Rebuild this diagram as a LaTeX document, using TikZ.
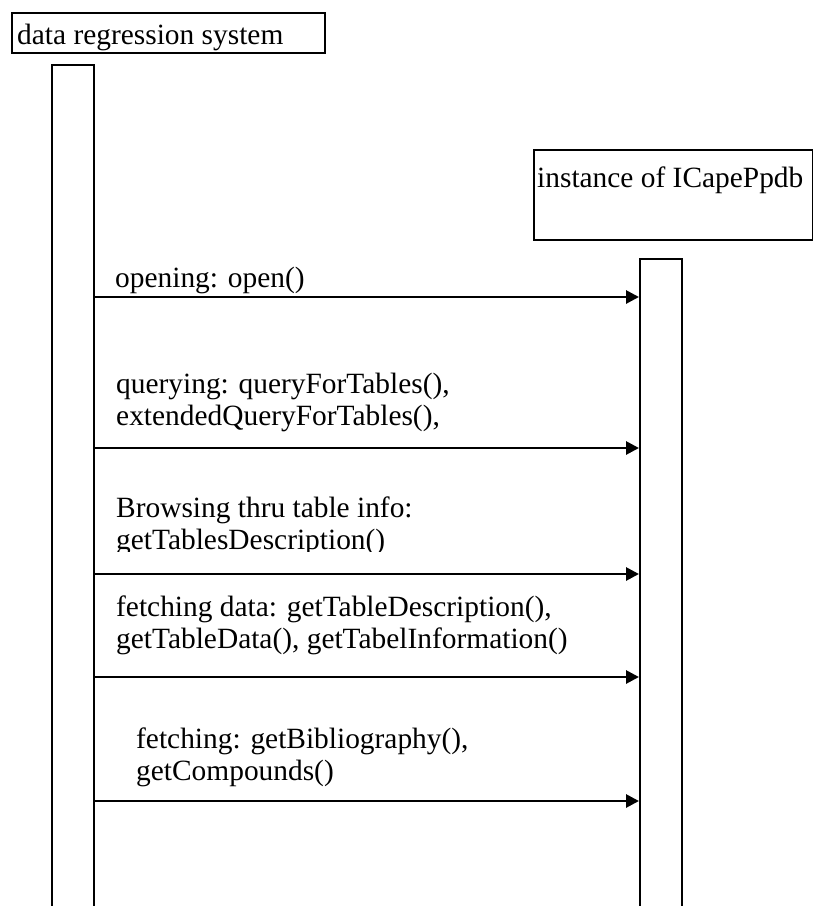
\documentclass[tikz,border=0pt]{standalone}
\usepackage{fontspec}
\setmainfont{Liberation Serif}
\usetikzlibrary{arrows.meta}

\begin{document}
\begin{tikzpicture}[x=1bp,y=-1bp,
  txt/.style={inner sep=0pt, font=\fontsize{29.4bp}{32bp}\selectfont, anchor=base west},
  objbox/.style={draw, line width=1.8bp, inner sep=0pt, anchor=north west},
  lifeline/.style={draw, line width=1.8bp, inner sep=0pt, anchor=north west, minimum width=42bp, minimum height=900bp},
  msg/.style={line width=2.8bp, -{Triangle[length=13bp, width=13bp]}}
]
\useasboundingbox (0,0) rectangle (813,906);

% participant: data regression system
\node[objbox, minimum width=313bp, minimum height=40bp] (drsbox) at (11,12) {};
\node[txt] (drstxt) at (17,44) {data regression system};
\node[lifeline] (drs) at (51,64) {};

% participant: instance of ICapePpdb
\node[objbox, minimum width=279bp, minimum height=90bp] (ppdbbox) at (533,149) {};
\node[txt] (ppdbtxt) at (537,187) {instance of ICapePpdb};
\node[lifeline] (ppdb) at (639,258) {};

% message 1
\node[txt] (m1a) at (115,287) {opening: open()};
\coordinate (s1) at (93,297);
\coordinate (e1) at (639,297);
\draw[msg] (s1) -- (e1);

% message 2
\node[txt] (m2a) at (116,393) {querying: queryForTables(),};
\node[txt] (m2b) at (116,425) {extendedQueryForTables(),};
\coordinate (s2) at (93,448);
\coordinate (e2) at (639,448);
\draw[msg] (s2) -- (e2);

% message 3 (label cut off at its lower edge)
\begin{scope}
  \clip (100,480) rectangle (630,551);
  \node[txt] (m3a) at (116,517) {Browsing thru table info:};
  \node[txt] (m3b) at (116,549) {getTablesDescription()};
\end{scope}
\coordinate (s3) at (93,574);
\coordinate (e3) at (639,574);
\draw[msg] (s3) -- (e3);

% message 4
\node[txt] (m4a) at (116,616) {fetching data: getTableDescription(),};
\node[txt] (m4b) at (116,648) {getTableData(), getTabelInformation()};
\coordinate (s4) at (93,677);
\coordinate (e4) at (639,677);
\draw[msg] (s4) -- (e4);

% message 5
\node[txt] (m5a) at (136,748) {fetching: getBibliography(),};
\node[txt] (m5b) at (136,780) {getCompounds()};
\coordinate (s5) at (93,801);
\coordinate (e5) at (639,801);
\draw[msg] (s5) -- (e5);
\end{tikzpicture}
\end{document}
